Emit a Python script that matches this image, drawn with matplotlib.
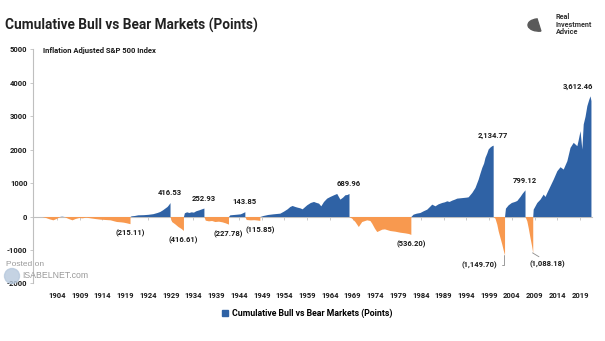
import numpy as np
import matplotlib
matplotlib.use("Agg")
import matplotlib.pyplot as plt
from matplotlib.patches import Patch, Ellipse, Wedge

plt.rcParams["font.family"] = ["Roboto", "DejaVu Sans"]

# ---- data (fractional year, cumulative points) ----
# each bull/bear run restarts from 0; the zero rows mark the restart points
years = [
    1900.7, 1901.5, 1902.3, 1903.1, 1903.8, 1904.5, 1905.0, 1905.6, 1906.5, 1907.3,
    1908.0, 1908.8, 1909.5, 1910.3, 1911.3, 1912.3, 1913.5, 1914.6, 1915.7, 1916.5,
    1917.1, 1918.0, 1918.6, 1919.3, 1920.05,
    1920.05, 1920.3, 1921.0, 1921.75, 1923.0, 1924.0, 1925.1, 1926.0, 1926.6, 1927.2,
    1927.7, 1928.2, 1928.5, 1928.85,
    1928.85, 1929.2, 1929.9, 1930.6, 1931.3, 1931.8,
    1931.8, 1932.0, 1932.5, 1933.0, 1933.5, 1934.0, 1934.5, 1935.2, 1935.8, 1936.3,
    1936.3, 1936.6, 1937.3, 1938.0, 1938.7, 1939.5, 1940.3, 1941.0, 1941.7,
    1941.7, 1942.0, 1942.8, 1943.6, 1944.3, 1944.8, 1945.3,
    1945.3, 1945.6, 1946.5, 1947.3, 1948.0, 1948.6,
    1948.6, 1949.3, 1950.3, 1951.5, 1953.0, 1953.8, 1954.6, 1955.2, 1955.7, 1956.3,
    1956.8, 1957.4, 1957.9, 1958.9, 1959.7, 1960.4, 1961.0, 1961.5, 1962.0, 1962.6,
    1963.3, 1964.0, 1964.8, 1965.5, 1966.2, 1966.8, 1967.3, 1967.8, 1968.2,
    1968.2, 1968.8, 1969.5, 1970.25, 1971.0, 1972.1, 1972.8, 1973.2, 1973.8, 1974.3,
    1974.8, 1975.4, 1976.0, 1977.2, 1978.3, 1979.4, 1980.5, 1981.3, 1981.8,
    1981.8, 1982.3, 1983.0, 1983.8, 1984.5, 1985.3, 1985.9, 1986.4, 1987.1, 1987.8,
    1988.6, 1989.2, 1989.7, 1990.2, 1990.8, 1991.4, 1991.9, 1992.6, 1993.3, 1994.0,
    1994.4, 1995.2, 1995.9, 1996.6, 1997.0, 1997.4, 1997.8, 1998.1, 1998.5, 1998.8,
    1999.2, 1999.6, 1999.9,
    1999.9, 2000.3, 2000.7, 2001.0, 2001.4, 2001.8, 2002.1, 2002.4,
    2002.4, 2002.6, 2003.2, 2003.9, 2004.6, 2005.1, 2005.8, 2006.3, 2006.9,
    2006.9, 2007.3, 2007.6, 2008.0, 2008.35, 2008.6,
    2008.6, 2008.7, 2009.5, 2010.2, 2010.9, 2011.3, 2011.7, 2012.4, 2013.1, 2013.9,
    2014.6, 2015.3, 2016.1, 2016.8, 2017.5, 2018.3, 2018.6, 2019.0, 2019.4, 2019.7,
    2020.1, 2020.5, 2020.9, 2021.2, 2021.4,
]
points = [
    0, -30, -70, -100, -60, -10, 10, -5, -60, -100,
    -60, -30, -40, -20, -40, -60, -80, -90, -100, -130,
    -150, -160, -170, -190, -215.11,
    0, 20, 30, 50, 55, 65, 85, 120, 150, 200,
    250, 300, 350, 416.53,
    0, -150, -220, -300, -360, -416.61,
    0, 110, 140, 120, 140, 130, 170, 200, 230, 252.93,
    0, -110, -130, -120, -150, -140, -160, -190, -227.78,
    0, 50, 60, 70, 80, 110, 143.85,
    0, -90, -100, -95, -105, -115.85,
    0, 30, 60, 80, 100, 160, 230, 300, 330, 300,
    280, 260, 230, 350, 420, 450, 420, 400, 320, 450,
    550, 600, 650, 690, 520, 580, 650, 660, 689.96,
    0, -50, -150, -300, -150, -100, -120, -200, -350, -450,
    -420, -380, -370, -420, -440, -470, -490, -510, -536.20,
    0, 70, 100, 120, 170, 220, 300, 370, 320, 380,
    420, 440, 470, 450, 490, 520, 550, 560, 570, 580,
    590, 720, 870, 1120, 1300, 1470, 1600, 1770, 1900, 2020,
    2080, 2120, 2134.77,
    0, -50, -230, -430, -630, -830, -1000, -1149.70,
    0, 250, 350, 420, 450, 480, 600, 700, 799.12,
    0, -130, -330, -630, -880, -1088.18,
    0, 220, 420, 520, 670, 600, 720, 920, 1120, 1370,
    1490, 1420, 1670, 2070, 2220, 2120, 2300, 2570, 2020, 2770,
    3000, 3320, 3500, 3612.46, 3470,
]

# labelled turning points
label_years = [1920.05, 1928.85, 1931.8, 1936.3, 1941.7, 1945.3, 1948.6, 1968.2,
               1981.8, 1999.9, 2002.4, 2006.9, 2008.6, 2021.2]
label_values = [-215.11, 416.53, -416.61, 252.93, -227.78, 143.85, -115.85, 689.96,
                -536.20, 2134.77, -1149.70, 799.12, -1088.18, 3612.46]

tick_years = list(range(1904, 2020, 5))
y_ticks = [5000, 4000, 3000, 2000, 1000, 0, -1000, -2000]

BLUE = "#2F62A5"
ORANGE = "#F8994F"
GREY = "#BFBFBF"
TXT = "#1a1a1a"

yrs = np.array(years)
pts = np.array(points, dtype=float)
bull = np.clip(pts, 0, None)
bear = np.clip(pts, None, 0)

W, H = 605, 341
fig = plt.figure(figsize=(W / 100, H / 100), dpi=100)
ax = fig.add_axes([33 / W, 1 - 283.3 / H, (592 - 33) / W, (283.3 - 49.5) / H])

ax.fill_between(yrs, bull, 0, color=BLUE, lw=0)
ax.fill_between(yrs, bear, 0, color=ORANGE, lw=0)

ax.set_xlim(1898.72, 2021.63)
ax.set_ylim(-2000, 5000)

# y axis
ax.set_yticks(y_ticks)
ax.set_yticklabels([str(v) for v in y_ticks], fontsize=5.5, fontweight="bold", color=TXT)
ax.tick_params(axis="y", length=2, width=0.6, color=GREY, pad=2)
for s in ["top", "right", "bottom"]:
    ax.spines[s].set_visible(False)
ax.spines["left"].set_color(GREY)
ax.spines["left"].set_linewidth(0.8)

# x labels at the bottom, axis line with ticks at zero
ax.set_xticks(tick_years)
ax.set_xticklabels([str(y) for y in tick_years], fontsize=5.5, fontweight="bold", color=TXT)
ax.tick_params(axis="x", length=0, pad=6)
zero_ax = ax.secondary_xaxis(2 / 7)
zero_ax.set_xticks(tick_years)
zero_ax.set_xticklabels([])
zero_ax.tick_params(length=2, width=0.6, color=GREY)
zero_ax.spines["bottom"].set_color(GREY)
zero_ax.spines["bottom"].set_linewidth(0.8)


def fmt(v):
    s = f"{abs(v):,.2f}"
    return f"({s})" if v < 0 else s


for x, v in zip(label_years, label_values):
    if v in (-1149.70, -1088.18):
        continue
    dx = -8.5 if v == 3612.46 else 0
    dy = 7 if v > 0 else -7
    ax.annotate(fmt(v), xy=(x, v), xytext=(dx, dy), textcoords="offset points",
                ha="center", va="center", fontsize=5.5, fontweight="bold", color=TXT)

ax.annotate(fmt(-1149.70), xy=(2002.3, -1149.70), xytext=(-17.5, -7.6),
            textcoords="offset points", ha="center", va="center", fontsize=5.5,
            fontweight="bold", color=TXT,
            arrowprops=dict(arrowstyle="-", color="#8c8c8c", lw=0.6, relpos=(1.0, 0.5),
                            connectionstyle="angle,angleA=0,angleB=90,rad=0",
                            shrinkA=1.5, shrinkB=0))
ax.annotate(fmt(-1088.18), xy=(2008.55, -1088.18), xytext=(10.5, -8.3),
            textcoords="offset points", ha="center", va="center", fontsize=5.5,
            fontweight="bold", color=TXT,
            arrowprops=dict(arrowstyle="-", color="#8c8c8c", lw=0.6, relpos=(0.45, 1.0),
                            shrinkA=1.5, shrinkB=0))

# titles
fig.text(5 / W, 1 - 25 / H, "Cumulative Bull vs Bear Markets (Points)",
         fontsize=9.8, fontweight="bold", color="#222222", ha="left", va="center")
fig.text(43 / W, 1 - 51 / H, "Inflation Adjusted S&P 500 Index",
         fontsize=5.5, fontweight="bold", color=TXT, ha="left", va="center")

# legend
fig.legend(handles=[Patch(color=BLUE, label="Cumulative Bull vs Bear Markets (Points)")],
           loc="center", bbox_to_anchor=(307 / W, 1 - 313 / H), frameon=False,
           handlelength=0.7, handleheight=0.7, handletextpad=0.4,
           prop=dict(weight="bold", size=6.3))

# logo
logo = Wedge((539 / W, 1 - 25 / H), 11 / W, 100, 280, color="#5a5a5a",
             transform=fig.transFigure)
fig.patches.append(logo)
fig.text(556 / W, 1 - 13 / H, "Real\nInvestment\nAdvice", fontsize=5.2,
         fontweight="bold", color="#333333", ha="left", va="top", linespacing=0.95)

# watermark
fig.patches.append(Ellipse((12 / W, 1 - 276 / H), 15 / W, 15 / H, color="#b7c9dd",
                           alpha=0.8, transform=fig.transFigure))
fig.text(6 / W, 1 - 264 / H, "Posted on", fontsize=6, color="#9a9a9a",
         family=["Liberation Sans", "DejaVu Sans"], ha="left", va="center")
fig.text(22 / W, 1 - 275 / H, "ISABELNET.com", fontsize=6.3, color="#9a9a9a",
         family=["Liberation Sans", "DejaVu Sans"], ha="left", va="center")

fig.savefig("out.png", dpi=100)
